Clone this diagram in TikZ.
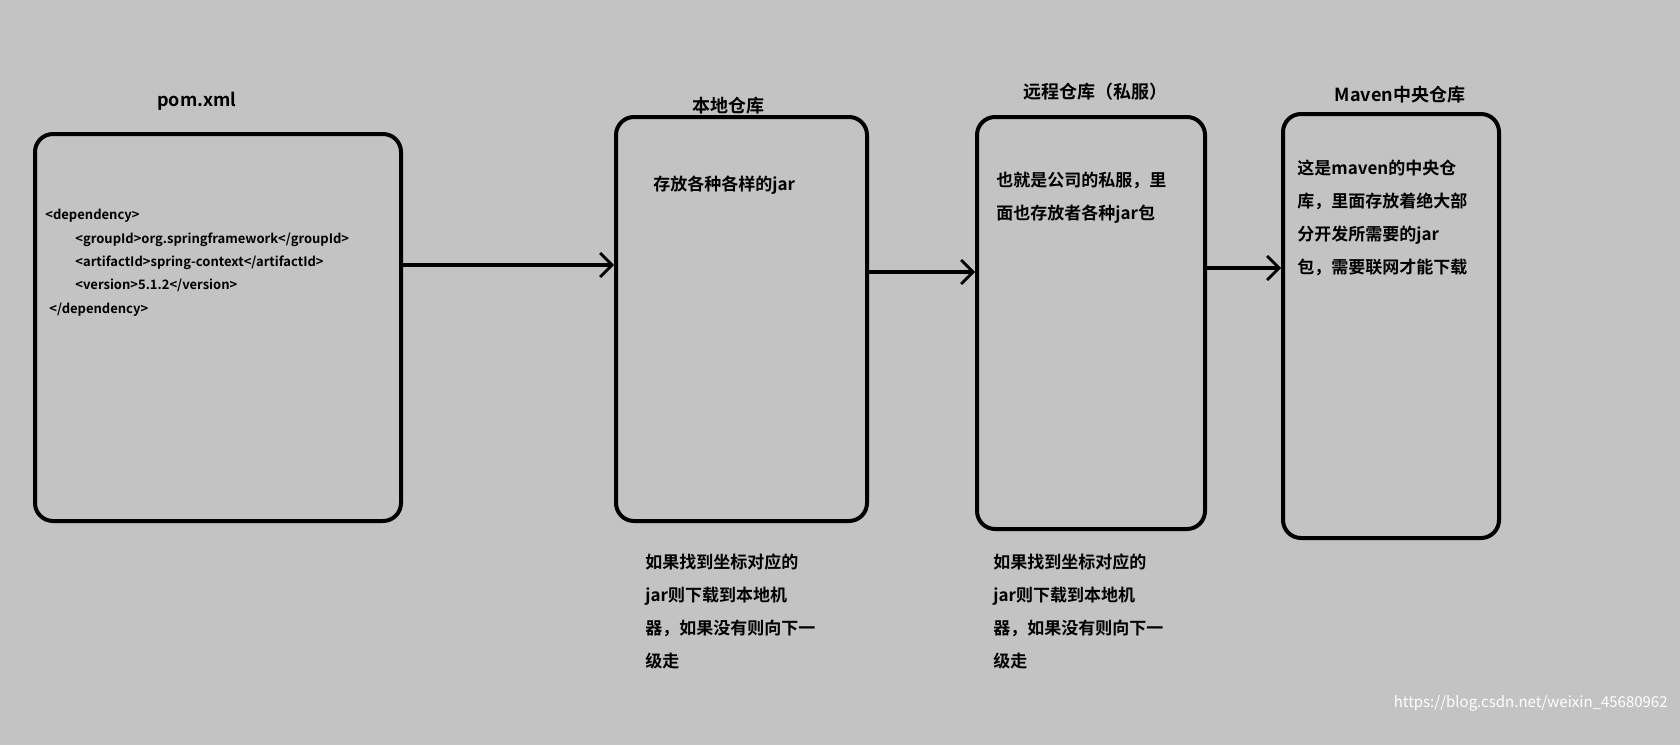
\documentclass[tikz,border=0pt]{standalone}
\usepackage{fontspec}
\setmainfont{Noto Sans CJK SC}[BoldFont={* Bold}]
\usetikzlibrary{positioning,arrows.meta}
\definecolor{bg}{HTML}{C3C3C3}
\tikzset{
    box/.style =    {rectangle,
                    rounded corners=9pt,
                    draw=black,
                    line width=2pt,
                    anchor=north west,
                    inner sep=0pt},
    title/.style =  {font=\bfseries\fontsize{9}{11}\selectfont},
    note/.style =   {font=\bfseries\fontsize{8.5}{16.5}\selectfont,
                    align=left,
                    anchor=north west,
                    inner sep=0pt},
    code/.style =   {font=\bfseries\fontsize{6.5}{11.7}\selectfont,
                    align=left,
                    anchor=north west,
                    inner sep=0pt},
    flow/.style =   {line width=1.8pt,
                    -{Straight Barb[length=6pt,width=12pt,line width=1.4pt]}}
}
\begin{document}
\begin{tikzpicture}[x=0.5pt,y=-0.5pt]
    \useasboundingbox[fill=bg] (0,0) rectangle (1680,745);
    % boxes
    \node[box,minimum width=183pt,minimum height=193.5pt] (pom) at (33,132) {};
    \node[box,minimum width=125.5pt,minimum height=202pt] (local) at (614,115) {};
    \node[box,minimum width=114pt,minimum height=206pt] (remote) at (975,115) {};
    \node[box,minimum width=108pt,minimum height=212pt] (central) at (1281,112) {};
    % titles
    \node[title] (pomT) at (197,101) {pom.xml};
    \node[title] (localT) at (728,106) {本地仓库};
    \node[title] (remoteT) at (1095,92) {远程仓库（私服）};
    \node[title] (centralT) at (1400,95) {Maven中央仓库};
    % texts
    \node[code] (dep) at (45,209) {<dependency>\\
        \hspace{15pt}<groupId>org.springframework</groupId>\\
        \hspace{15pt}<artifactId>spring-context</artifactId>\\
        \hspace{15pt}<version>5.1.2</version>\\
        \hspace{2pt}</dependency>};
    \node[note] (localN) at (653,175) {存放各种各样的jar};
    \node[note] (remoteN) at (996,172) {也就是公司的私服，里\\面也存放者各种jar包};
    \node[note] (centralN) at (1297,160) {这是maven的中央仓\\库，里面存放着绝大部\\分开发所需要的jar\\包，需要联网才能下载};
    \node[note] (localB) at (645,553) {如果找到坐标对应的\\jar则下载到本地机\\器，如果没有则向下一\\级走};
    \node[note] (remoteB) at (993,553) {如果找到坐标对应的\\jar则下载到本地机\\器，如果没有则向下一\\级走};
    \node[font=\fontsize{7.5}{9}\selectfont,text=white,anchor=east,inner sep=0pt] (mark) at (1668,703) {https://blog.csdn.net/weixin\_45680962};
    % arrows
    \draw[flow] (pom.east |- 0,265) -- (local.west |- 0,265);
    \draw[flow] (local.east |- 0,272) -- (remote.west |- 0,272);
    \draw[flow] (remote.east |- 0,268) -- (central.west |- 0,268);
\end{tikzpicture}
\end{document}
